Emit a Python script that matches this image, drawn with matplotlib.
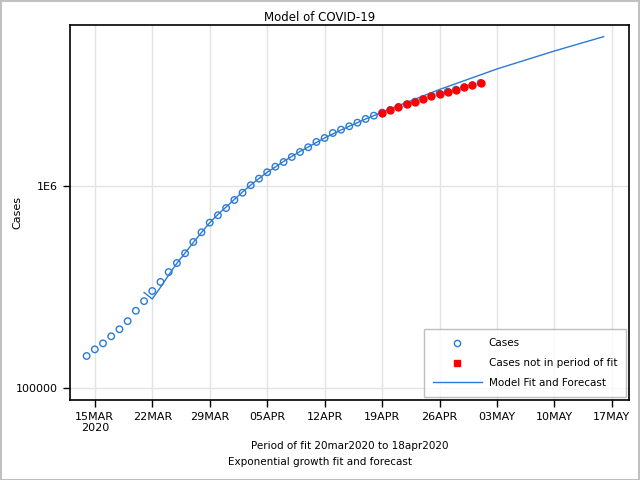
import numpy as np
import pandas as pd
import matplotlib
matplotlib.use("Agg")
import matplotlib.pyplot as plt
from matplotlib.lines import Line2D
from matplotlib.patches import Rectangle

# ---- data ----
case_dates = pd.date_range("2020-03-14", "2020-05-01", freq="D")
cases = [143700, 155000, 166000, 180000, 195000, 214000, 241000, 269000, 302000,
         335000, 375000, 416000, 465000, 529000, 591000, 660000, 718000, 780000,
         855000, 929000, 1012000, 1091000, 1174000, 1251000, 1320000, 1398000,
         1480000, 1562000, 1660000, 1737000, 1839000, 1910000, 1986000, 2069000,
         2159000, 2242000, 2320000, 2393000, 2476000, 2553000, 2630000, 2713000,
         2808000, 2883000, 2950000, 3018000, 3101000, 3173000, 3258000]
fit_end = pd.Timestamp("2020-04-18")

model_dates = list(pd.date_range("2020-03-21", "2020-04-19", freq="D")) + \
    [pd.Timestamp(d) for d in ["2020-04-26", "2020-05-03", "2020-05-10", "2020-05-16"]]
model = [297000, 275700, 315100, 362700, 414700, 466600, 526000, 589600, 659600,
         724400, 789300, 860000, 937000, 1015000, 1093000, 1174000, 1247000,
         1328000, 1406000, 1489000, 1567000, 1650000, 1737000, 1818000, 1903000,
         1986000, 2069000, 2159000, 2242000, 2335000,
         3024000, 3823000, 4696000, 5533000]

tick_dates = pd.date_range("2020-03-15", "2020-05-17", freq="7D")
tick_labels = ["15MAR\n2020", "22MAR", "29MAR", "05APR", "12APR", "19APR",
               "26APR", "03MAY", "10MAY", "17MAY"]
y_ticks = [100000, 1000000]
y_tick_labels = ["100000", "1E6"]

blue = "#2a7ad6"

fig = plt.figure(figsize=(6.4, 4.8), dpi=100)
ax = fig.add_axes([0.1086, 0.1667, 0.8742, 0.7802])

ax.plot(model_dates, model, color=blue, lw=1.0, zorder=3)
ax.scatter(case_dates, cases, s=22, facecolors="none", edgecolors=blue, lw=1.0,
           zorder=4)
cd = np.array(case_dates)
cv = np.array(cases)
mask = cd > np.datetime64(fit_end)
ax.scatter(cd[mask], cv[mask], s=25, color="red", zorder=5)

ax.set_yscale("log")
ax.set_ylim(86900, 6285000)
ax.set_xlim(pd.Timestamp("2020-03-11 22:00"), pd.Timestamp("2020-05-19 02:00"))
ax.set_yticks(y_ticks)
ax.set_yticklabels(y_tick_labels)
ax.yaxis.set_minor_locator(matplotlib.ticker.NullLocator())
ax.set_xticks(tick_dates)
ax.set_xticklabels(tick_labels)
ax.tick_params(labelsize=8, length=5, width=1, color="black", direction="out")
ax.grid(True, color="#e3e3e3", lw=1, zorder=0)
ax.set_axisbelow(True)
for s in ax.spines.values():
    s.set_linewidth(1.2)

fig.text(0.027, 0.557, "Cases", fontsize=8, rotation=90, ha="center", va="center")
fig.text(0.5, 0.964, "Model of COVID-19", fontsize=8.5, ha="center", va="center")

handles = [Line2D([], [], marker="o", ls="none", mfc="none", mec=blue, ms=4.5, mew=1),
           Line2D([], [], marker="s", ls="none", color="red", ms=4),
           Line2D([], [], color=blue, lw=1)]
labels = ["Cases", "Cases not in period of fit", "Model Fit and Forecast"]
leg = ax.legend(handles, labels, loc="lower right", fontsize=7.5, frameon=True,
                fancybox=False, edgecolor="#b0b0b0", handlelength=4.7,
                borderpad=0.85, labelspacing=0.95, handletextpad=0.65,
                borderaxespad=0, bbox_to_anchor=(0.9946, 0.008))
leg.get_frame().set_linewidth(1)

fig.text(0.547, 0.065, "Period of fit 20mar2020 to 18apr2020", fontsize=7.5, ha="center")
fig.text(0.5, 0.031, "Exponential growth fit and forecast", fontsize=7.5, ha="center")

fig.patches.append(Rectangle((0.001, 0.001), 0.997, 0.997, transform=fig.transFigure,
                             fill=False, edgecolor="#c0c0c0", lw=1.5))

fig.savefig("out.png", dpi=100)
